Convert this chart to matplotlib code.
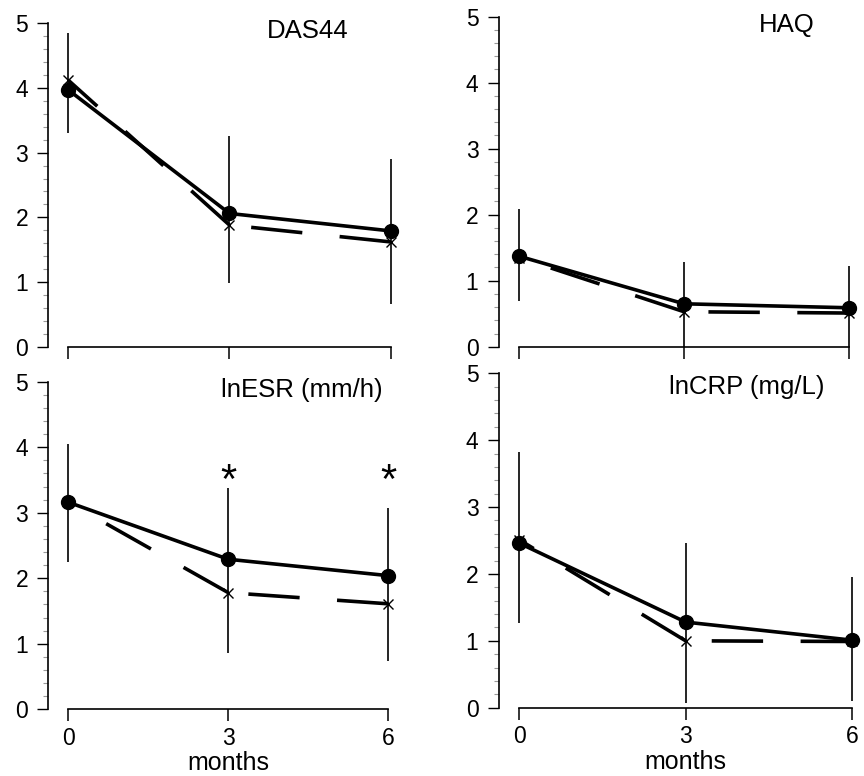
import matplotlib.pyplot as plt
from matplotlib.ticker import MultipleLocator

plt.rcParams['font.family'] = ['Liberation Sans', 'DejaVu Sans']
plt.rcParams['lines.scale_dashes'] = False

months = [0, 3, 6]

# DAS44
das_dot = [3.97, 2.06, 1.79]
das_cross = [4.12, 1.88, 1.62]
das_lo = [3.30, 0.98, 0.66]
das_hi = [4.85, 3.25, 2.90]

# HAQ
haq_dot = [1.37, 0.65, 0.59]
haq_cross = [1.35, 0.53, 0.51]
haq_lo = [0.69, 0.0, 0.0]
haq_hi = [2.09, 1.28, 1.23]

# lnESR
esr_dot = [3.16, 2.29, 2.04]
esr_cross = [3.16, 1.78, 1.61]
esr_lo = [2.25, 0.86, 0.74]
esr_hi = [4.05, 3.37, 3.07]
esr_star = [3, 6]
star_y = 3.47

# lnCRP
crp_dot = [2.46, 1.28, 1.01]
crp_cross = [2.51, 1.00, 0.99]
crp_lo = [1.26, 0.07, 0.10]
crp_hi = [3.82, 2.46, 1.95]

W, H = 864, 776
fig = plt.figure(figsize=(W / 100, H / 100), dpi=100)


def add_panel(spine_x, x0_px, x6_px, y0_px, y5_px, right_px):
    per = (x6_px - x0_px) / 6
    ax = fig.add_axes([spine_x / W, (H - y0_px) / H,
                       (right_px - spine_x) / W, (y0_px - y5_px) / H])
    ax.set_xlim(-(x0_px - spine_x) / per, (right_px - x0_px) / per)
    ax.set_ylim(0, 5)
    for s in ['top', 'right']:
        ax.spines[s].set_visible(False)
    ax.spines['left'].set_bounds(0, 5)
    ax.spines['bottom'].set_bounds(0, 6)
    for s in ['left', 'bottom']:
        ax.spines[s].set_linewidth(1.2)
    ax.set_xticks(months)
    ax.set_yticks(range(6))
    ax.yaxis.set_minor_locator(MultipleLocator(0.2))
    ax.tick_params(axis='x', length=8.5, width=1.1, labelsize=16.5, pad=4)
    ax.tick_params(axis='y', which='major', length=7.6, width=1.0,
                   labelsize=16.5, pad=7)
    ax.tick_params(axis='y', which='minor', length=3.6, width=0.8,
                   color='#999999')
    ax.patch.set_alpha(0)
    return ax


def draw(ax, dot, cross, lo, hi, title, tx, ty, labels):
    ax.vlines(months, lo, hi, color='black', lw=1.2, zorder=2)
    # dashed series, each segment drawn from its end so a dash meets the point
    for i in range(len(months) - 1):
        ax.plot([months[i + 1], months[i]], [cross[i + 1], cross[i]],
                color='black', lw=2.6, dashes=(37, 27), zorder=3)
    ax.plot(months, cross, ls='none', marker='x', ms=7.5, mew=1.0,
            color='black', zorder=4, clip_on=False)
    ax.plot(months, dot, color='black', lw=2.6, marker='o', ms=10,
            zorder=5, clip_on=False)
    ax.text(tx, ty, title, fontsize=18.5, ha='center', va='center')
    if labels:
        ax.annotate('months', xy=(3, 0), xytext=(0, -39),
                    textcoords='offset points', ha='center', va='center',
                    fontsize=18, annotation_clip=False)
    else:
        ax.tick_params(axis='x', labelbottom=False)


ax1 = add_panel(48.3, 68.3, 390.7, 346.7, 23.3, 410)
draw(ax1, das_dot, das_cross, das_lo, das_hi, 'DAS44', 4.46, 4.88, False)

ax2 = add_panel(498.7, 519.3, 848.7, 346.7, 16.7, 862)
draw(ax2, haq_dot, haq_cross, haq_lo, haq_hi, 'HAQ', 4.88, 4.87, False)

ax3 = add_panel(48.3, 68.3, 388.3, 709.3, 381.7, 410)
draw(ax3, esr_dot, esr_cross, esr_lo, esr_hi, 'lnESR (mm/h)', 4.37, 4.87, True)
for m in esr_star:
    ax3.text(m, star_y, '*', fontsize=30, ha='center', va='center')

ax4 = add_panel(498.7, 519.3, 852.0, 707.7, 373.3, 862)
draw(ax4, crp_dot, crp_cross, crp_lo, crp_hi, 'lnCRP (mg/L)', 4.11, 4.80, True)

fig.savefig('out.png', dpi=100)
